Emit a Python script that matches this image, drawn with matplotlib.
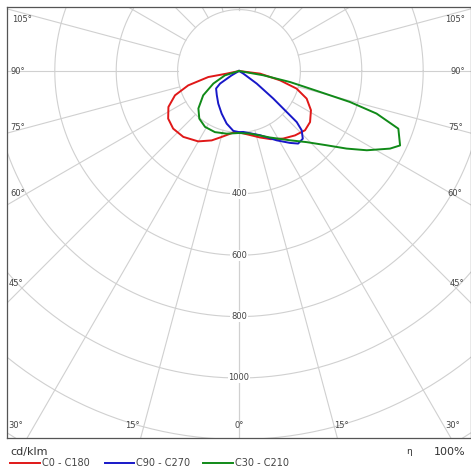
import numpy as np
import matplotlib.pyplot as plt

# polar intensity curves, gamma in degrees from nadir, intensity in cd/klm
# each half listed in drawing order (left half from the pole down, right half back up)
red_c180_gamma = [90, 78, 78.9, 74.2, 69.2, 63, 56.1, 48.8, 40.2, 30.1, 21.5, 14.7, 3.8, 0]
red_c180_cd = [0, 41, 102, 172, 223, 258, 278, 285, 281, 265, 243, 222, 199, 200]
red_c0_gamma = [0, 10, 17.5, 25, 33.2, 41, 48.1, 54.3, 61.4, 67.8, 73, 77.2, 82.9, 90]
red_c0_cd = [200, 212, 227, 245, 263, 278, 289, 285, 267, 238, 196, 137, 69, 0]

blue_c270_gamma = [90, 59.5, 56.4, 52.6, 42.5, 32.4, 22.1, 13.2, 5.4, 0]
blue_c270_cd = [0, 28, 74, 94, 107, 126, 150, 176, 196, 199]
blue_c90_gamma = [0, 4, 18.1, 28.5, 35.3, 39.2, 43.3, 46.6, 48.5, 49.3, 51.2, 54.6, 59, 90]
blue_c90_cd = [199, 199, 220, 257, 287, 305, 303, 281, 251, 205, 143, 71, 16, 0]

green_c210_gamma = [90, 72.9, 63.9, 55.8, 47.3, 39.8, 31.3, 21.5, 11.1, 0]
green_c210_cd = [0, 48, 93, 141, 180, 202, 213, 214, 208, 202]
green_c30_gamma = [0, 10, 25, 36.3, 43.6, 49.7, 54.2, 58.2, 62.8, 65.2, 70.1, 72.8, 74.4,
                   75.5, 76.8, 77.8, 80, 90]
green_c30_cd = [202, 207, 239, 280, 320, 374, 432, 490, 553, 578, 552, 469, 375,
                273, 204, 170, 80, 0]

ring_values = [200, 400, 600, 800, 1000, 1200, 1400]
ring_labels = [400, 600, 800, 1000]
spoke_angles = list(range(0, 181, 15))

series = [
    ("C0 - C180", "#e01818", red_c180_gamma, red_c180_cd, red_c0_gamma, red_c0_cd),
    ("C90 - C270", "#1818c8", blue_c270_gamma, blue_c270_cd, blue_c90_gamma, blue_c90_cd),
    ("C30 - C210", "#108a18", green_c210_gamma, green_c210_cd, green_c30_gamma, green_c30_cd),
]

# layout (pixels)
W, H = 471, 472
cx, cy = 239, 71          # pole position in pixels
k = 0.307                 # pixels per cd/klm
box_l, box_t, box_r, box_b = 7, 7, 470.5, 438

fig = plt.figure(figsize=(W / 100, H / 100), dpi=100)
ax = fig.add_axes([box_l / W, 1 - box_b / H, (box_r - box_l) / W, (box_b - box_t) / H])
ax.set_xlim(-(cx - box_l) / k, (box_r - cx) / k)
ax.set_ylim(-(box_b - cy) / k, (cy - box_t) / k)
ax.set_xticks([])
ax.set_yticks([])
for s in ax.spines.values():
    s.set_color("#555555")
    s.set_linewidth(0.9)

grid_col = "#d0d0d0"
t = np.linspace(0, 2 * np.pi, 400)
for r in ring_values:
    ax.plot(r * np.cos(t), r * np.sin(t), color=grid_col, lw=0.8, zorder=1)
for a in spoke_angles:
    g = np.deg2rad(a)
    for side in (-1, 1):
        ax.plot([side * 200 * np.sin(g), side * 3000 * np.sin(g)],
                [-200 * np.cos(g), -3000 * np.cos(g)], color=grid_col, lw=0.8, zorder=1)

for v in ring_labels:
    ax.text(0, -v, str(v), ha="center", va="center", fontsize=6, color="#444444",
            bbox=dict(facecolor="white", edgecolor="none", pad=0.6), zorder=2)


def px(x, y):
    return (x - cx) / k, -(y - cy) / k


angle_labels = [
    ("105°", 22, 20, 455, 20), ("90°", 18, 71, 458, 71), ("75°", 18, 128, 456, 128),
    ("60°", 18, 194, 455, 194), ("45°", 16, 284, 457, 284), ("30°", 16, 425, 453, 425),
    ("15°", 132, 425, 341, 425),
]
for txt, xl, yl, xr, yr in angle_labels:
    ax.text(*px(xl, yl), txt, ha="center", va="center", fontsize=6, color="#444444", zorder=2)
    ax.text(*px(xr, yr), txt, ha="center", va="center", fontsize=6, color="#444444", zorder=2)
ax.text(*px(239, 425), "0°", ha="center", va="center", fontsize=6, color="#444444", zorder=2)

for name, col, lg, lc, rg, rc in series:
    lg = np.deg2rad(lg)
    rg = np.deg2rad(rg)
    x = np.concatenate([-np.array(lc) * np.sin(lg), np.array(rc) * np.sin(rg)])
    y = np.concatenate([-np.array(lc) * np.cos(lg), -np.array(rc) * np.cos(rg)])
    ax.plot(x, y, color=col, lw=1.4, zorder=3, solid_joinstyle="round")

# texts below the diagram
fig.text(10 / W, 1 - 452 / H, "cd/klm", fontsize=8, color="#333333", va="center")
fig.text(409 / W, 1 - 451 / H, "η", fontsize=6.5, color="#333333", va="center", ha="center")
fig.text(465 / W, 1 - 452 / H, "100%", fontsize=8, color="#333333", va="center", ha="right")

legend_x = [(10, 40, 42), (105, 134, 136), (203, 233, 235)]
for (name, col, *_), (x0, x1, xt) in zip(series, legend_x):
    fig.add_artist(plt.Line2D([x0 / W, x1 / W], [1 - 463 / H] * 2, color=col, lw=1.4))
    fig.text(xt / W, 1 - 463 / H, name, fontsize=7, color="#444444", va="center")

fig.savefig("out.png", dpi=100)
